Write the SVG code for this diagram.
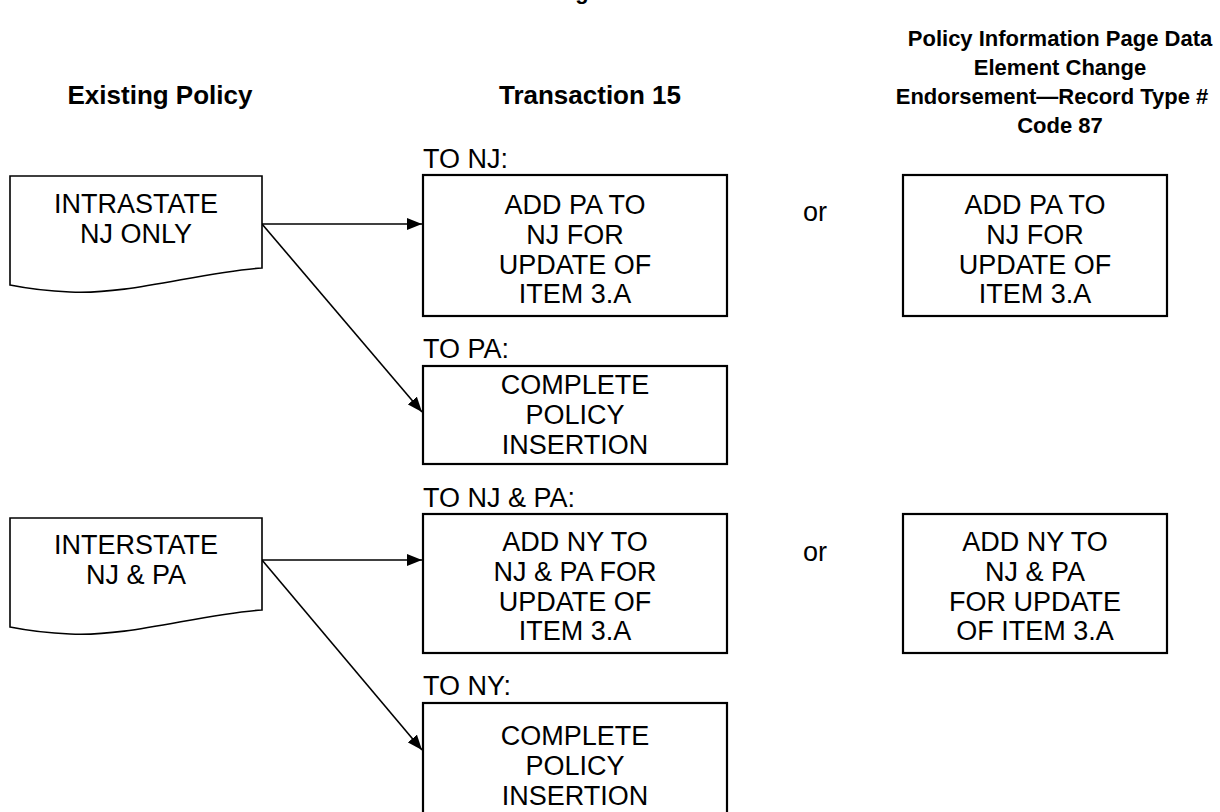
<svg xmlns="http://www.w3.org/2000/svg" width="1220" height="812" viewBox="0 0 1220 812">
<style>
.hd{font-family:"Liberation Sans",Arial,sans-serif;font-weight:bold;fill:#000;text-anchor:middle}
.tx{font-family:"Liberation Sans",Arial,sans-serif;font-size:27px;fill:#000;text-anchor:middle}
.lb{font-family:"Liberation Sans",Arial,sans-serif;font-size:27px;fill:#000}
.box{fill:#fff;stroke:#000;stroke-width:2.2}
.doc{fill:#fff;stroke:#000;stroke-width:1.6}
.con{fill:none;stroke:#000;stroke-width:1.6}
</style>
<defs>
<marker id="ah" markerUnits="userSpaceOnUse" markerWidth="15" markerHeight="12" refX="15" refY="6" orient="auto">
<path d="M0,0 L15,6 L0,12 z" fill="#000"/>
</marker>
</defs>
<rect width="1220" height="812" fill="#fff"/>
<g id="headers">
<text class="hd" x="582" y="-1" font-size="22">g</text>
<text class="hd" x="160" y="104" font-size="26">Existing Policy</text>
<text class="hd" x="590" y="104" font-size="26">Transaction 15</text>
<text class="hd" x="1060" y="46" font-size="22">Policy Information Page Data</text>
<text class="hd" x="1060" y="75" font-size="22">Element Change</text>
<text class="hd" x="1052" y="104" font-size="22">Endorsement—Record Type #</text>
<text class="hd" x="1060" y="133" font-size="22">Code 87</text>
</g>
<g id="connectors">
<path class="con" d="M262,224 H422" marker-end="url(#ah)"/>
<path class="con" d="M262,224 L422,412" marker-end="url(#ah)"/>
<path class="con" d="M262,560 H422" marker-end="url(#ah)"/>
<path class="con" d="M262,560 L422,750" marker-end="url(#ah)"/>
</g>
<g id="doc-intrastate">
<path class="doc" d="M10,176 H262 V268 C200,272 130,295 70,292 C45,291 25,288 10,285 Z"/>
<text class="tx" x="136" y="213">INTRASTATE</text>
<text class="tx" x="136" y="243">NJ ONLY</text>
</g>
<g id="doc-interstate">
<path class="doc" d="M10,518 H262 V610 C200,614 130,637 70,634 C45,633 25,630 10,627 Z"/>
<text class="tx" x="136" y="554">INTERSTATE</text>
<text class="tx" x="136" y="584">NJ &amp; PA</text>
</g>
<g id="box-to-nj">
<text class="lb" x="423" y="168">TO NJ:</text>
<rect class="box" x="423" y="175" width="304" height="141"/>
<text class="tx" x="575" y="214">ADD PA TO</text>
<text class="tx" x="575" y="244">NJ FOR</text>
<text class="tx" x="575" y="274">UPDATE OF</text>
<text class="tx" x="575" y="303">ITEM 3.A</text>
</g>
<g id="box-to-pa">
<text class="lb" x="423" y="358">TO PA:</text>
<rect class="box" x="423" y="366" width="304" height="98"/>
<text class="tx" x="575" y="394">COMPLETE</text>
<text class="tx" x="575" y="424">POLICY</text>
<text class="tx" x="575" y="454">INSERTION</text>
</g>
<g id="box-to-njpa">
<text class="lb" x="423" y="507">TO NJ &amp; PA:</text>
<rect class="box" x="423" y="514" width="304" height="139"/>
<text class="tx" x="575" y="551">ADD NY TO</text>
<text class="tx" x="575" y="581">NJ &amp; PA FOR</text>
<text class="tx" x="575" y="611">UPDATE OF</text>
<text class="tx" x="575" y="640">ITEM 3.A</text>
</g>
<g id="box-to-ny">
<text class="lb" x="423" y="695">TO NY:</text>
<rect class="box" x="423" y="703" width="304" height="150"/>
<text class="tx" x="575" y="745">COMPLETE</text>
<text class="tx" x="575" y="775">POLICY</text>
<text class="tx" x="575" y="805">INSERTION</text>
</g>
<g id="or-1">
<text class="lb" x="803" y="221">or</text>
</g>
<g id="or-2">
<text class="lb" x="803" y="561">or</text>
</g>
<g id="endorse-1">
<rect class="box" x="903" y="175" width="264" height="141"/>
<text class="tx" x="1035" y="214">ADD PA TO</text>
<text class="tx" x="1035" y="244">NJ FOR</text>
<text class="tx" x="1035" y="274">UPDATE OF</text>
<text class="tx" x="1035" y="303">ITEM 3.A</text>
</g>
<g id="endorse-2">
<rect class="box" x="903" y="514" width="264" height="139"/>
<text class="tx" x="1035" y="551">ADD NY TO</text>
<text class="tx" x="1035" y="581">NJ &amp; PA</text>
<text class="tx" x="1035" y="611">FOR UPDATE</text>
<text class="tx" x="1035" y="640">OF ITEM 3.A</text>
</g>
</svg>
